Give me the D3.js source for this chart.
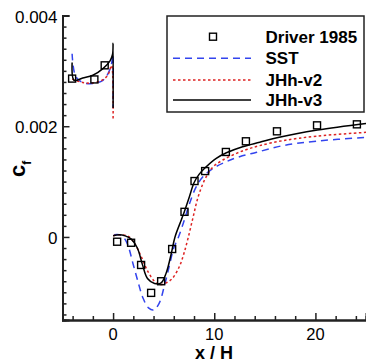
<!DOCTYPE html>
<html>
<head>
<meta charset="utf-8">
<script src="https://cdn.jsdelivr.net/npm/d3@7"></script>
<style>
  body { margin: 0; background: #fff; }
  svg { display: block; font-family: "Liberation Sans", Arial, sans-serif; }
</style>
</head>
<body>
<svg id="chart" width="366" height="362"></svg>
<script>
// Driver 1985 experiment
let driverX  = [-4.05, -1.85, -0.83, 0.4, 1.78, 2.77, 3.76, 4.75, 5.84, 7.06, 8.05, 9.1, 11.15, 13.13, 16.2, 20.16, 24.1];
let driverCf = [0.00286, 0.002845, 0.0031, -0.000086, -0.000105, -0.000506, -0.00101, -0.0008, -0.000218, 0.000454, 0.00101, 0.00119, 0.001535, 0.001728, 0.001908, 0.002016, 0.002034];

// SST
let sstUp = [[-4.05, 0.00331], [-3.7, 0.0029], [-3, 0.00279], [-2, 0.00277], [-1, 0.00283], [-0.5, 0.00295], [-0.15, 0.00313], [-0.03, 0.0033], [0, 0.00235]];
let sstDown = [[0.1, 0.00004], [0.6, 0.00004], [1.0, 0.0], [1.45, -0.00014], [1.95, -0.00047], [2.45, -0.0008], [2.95, -0.0011],
  [3.5, -0.00128], [4.0, -0.00132], [4.55, -0.0012], [5.05, -0.0009], [5.55, -0.00053], [6.0, -0.0002], [6.47, 0.0],
  [7.05, 0.00031], [7.55, 0.0006], [8.2, 0.0009], [8.9, 0.00109], [9.9, 0.00124], [11.2, 0.00136], [12.5, 0.00145],
  [14.2, 0.00153], [16.8, 0.00165], [20.1, 0.00173], [25, 0.0018]];

// JHh-v2
let v2Up = [[-4.05, 0.00285], [-3, 0.00279], [-2, 0.00278], [-1, 0.00284], [-0.5, 0.00293], [-0.15, 0.0031], [0, 0.00212]];
let v2Down = [[0, 0.00002], [0.6, 0.00004], [1.2, 0.00003], [1.6, 0.0], [2.1, -0.00011], [2.77, -0.00035], [3.43, -0.00062],
  [4.09, -0.0008], [4.6, -0.00086], [5.25, -0.00083], [5.9, -0.00074], [6.56, -0.00053], [7.0, -0.0003], [7.4, -0.00003],
  [7.9, 0.00035], [8.4, 0.00072], [9.05, 0.00103], [9.85, 0.00126], [10.85, 0.00139], [12.2, 0.00151], [13.2, 0.00158],
  [14.5, 0.00165], [16.8, 0.00174], [20.1, 0.00182], [25, 0.00189]];

// JHh-v3
let v3Up = [[-4.05, 0.00315], [-3.85, 0.00283], [-3, 0.00287], [-2, 0.00292], [-1, 0.00304], [-0.3, 0.00318], [-0.05, 0.0033], [0, 0.0035], [0, 0.00233]];
let v3Down = [[0, 0.00002], [0.6, 0.00004], [1.2, 0.00002], [1.8, -0.00004], [2.4, -0.0002], [2.9, -0.0005], [3.4, -0.00075],
  [4.1, -0.00084], [4.75, -0.00083], [5.25, -0.00065], [5.75, -0.0003], [6.12, 0.0], [6.75, 0.00031], [7.05, 0.00046],
  [7.55, 0.00073], [8.0, 0.00098], [8.5, 0.00113], [9.1, 0.00125], [10.2, 0.00142], [11.2, 0.00152], [12.8, 0.00163],
  [14.5, 0.00171], [16.2, 0.00179], [20.2, 0.00193], [25, 0.00205]];

let xMajor = [0, 10, 20];
let yMajor = [0, 0.002, 0.004];
let yLabels = ["0", "0.002", "0.004"];
let seriesNames = ["Driver 1985", "SST", "JHh-v2", "JHh-v3"];

let svg = d3.select("#chart");

let x = d3.scaleLinear().domain([-5, 25]).range([62.5, 366]);
let y = d3.scaleLinear().domain([-0.0015, 0.004]).range([320, 15.5]);

let line = d3.line()
    .x(function(d) { return x(d[0]); })
    .y(function(d) { return y(d[1]); })
    .curve(d3.curveCatmullRom.alpha(0.5));

let styles = [
  {stroke: "#3344ee", dash: "7,5"},
  {stroke: "#dd2222", dash: "2.5,2.5"},
  {stroke: "#000", dash: null}
];
let curves = [[sstUp, sstDown], [v2Up, v2Down], [v3Up, v3Down]];

curves.forEach(function(segs, i) {
  segs.forEach(function(seg) {
    svg.append("path")
        .attr("d", line(seg))
        .attr("fill", "none")
        .attr("stroke", styles[i].stroke)
        .attr("stroke-width", 1.5)
        .attr("stroke-dasharray", styles[i].dash);
  });
});

// experiment squares
svg.selectAll(".pt")
  .data(d3.range(driverX.length))
  .enter().append("rect")
    .attr("class", "pt")
    .attr("x", function(i) { return x(driverX[i]) - 3.5; })
    .attr("y", function(i) { return y(driverCf[i]) - 3.5; })
    .attr("width", 7)
    .attr("height", 7)
    .attr("fill", "none")
    .attr("stroke", "#000")
    .attr("stroke-width", 1.4);

// axes
let xAxis = svg.append("g").attr("transform", "translate(0,320)");
xAxis.call(d3.axisBottom(x).tickValues(d3.range(-4, 25, 2).filter(function(v) { return v % 10 != 0; }))
    .tickSize(-4).tickFormat(""));
let xAxis2 = svg.append("g").attr("transform", "translate(0,320)");
xAxis2.call(d3.axisBottom(x).tickValues(xMajor).tickSize(-7).tickFormat(""));

let yTicksMinor = d3.range(-7, 20).map(function(k) { return k * 0.0002; })
    .filter(function(v, k) { return (k - 7) % 10 != 0; });
let yAxis = svg.append("g").attr("transform", "translate(62.5,0)");
yAxis.call(d3.axisLeft(y).tickValues(yTicksMinor).tickSize(-4).tickFormat(""));
let yAxis2 = svg.append("g").attr("transform", "translate(62.5,0)");
yAxis2.call(d3.axisLeft(y).tickValues(yMajor).tickSize(-7).tickFormat(""));

svg.selectAll(".domain").attr("stroke", "#222").attr("stroke-width", 2);
svg.selectAll(".tick line").attr("stroke", "#222").attr("stroke-width", 1.5);

svg.selectAll(".xlab")
  .data(xMajor)
  .enter().append("text")
    .attr("x", function(d) { return x(d); })
    .attr("y", 340)
    .attr("text-anchor", "middle")
    .attr("font-size", 16.5)
    .text(function(d) { return d; });

svg.selectAll(".ylab")
  .data(yMajor)
  .enter().append("text")
    .attr("x", 57.5)
    .attr("y", function(d) { return y(d) + 7; })
    .attr("text-anchor", "end")
    .attr("font-size", 17)
    .text(function(d, i) { return yLabels[i]; });

svg.append("text")
    .attr("x", 214)
    .attr("y", 358.5)
    .attr("text-anchor", "middle")
    .attr("font-size", 18)
    .attr("font-weight", "bold")
    .text("x / H");

let yt = svg.append("text")
    .attr("transform", "translate(25,177) rotate(-90)")
    .attr("font-size", 22)
    .attr("font-weight", "bold");
yt.append("tspan").text("c");
yt.append("tspan").attr("font-size", 12).attr("dy", 6).text("f");

// legend
let lg = svg.append("g");
lg.append("rect")
    .attr("x", 167).attr("y", 16)
    .attr("width", 197).attr("height", 96)
    .attr("fill", "#fff")
    .attr("stroke", "#222")
    .attr("stroke-width", 1.5);

let rowY = [36.7, 58.3, 80, 100];
lg.append("rect")
    .attr("x", 213 - 3.5).attr("y", rowY[0] - 3.5)
    .attr("width", 7).attr("height", 7)
    .attr("fill", "none").attr("stroke", "#000").attr("stroke-width", 1.4);
styles.forEach(function(s, i) {
  lg.append("line")
      .attr("x1", 173).attr("x2", 251)
      .attr("y1", rowY[i + 1]).attr("y2", rowY[i + 1])
      .attr("stroke", s.stroke)
      .attr("stroke-width", 1.5)
      .attr("stroke-dasharray", s.dash);
});
lg.selectAll(".lt")
  .data(seriesNames)
  .enter().append("text")
    .attr("x", 265.5)
    .attr("y", function(d, i) { return rowY[i] + 6; })
    .attr("font-size", 17)
    .attr("font-weight", "bold")
    .text(function(d) { return d; });
</script>
</body>
</html>
